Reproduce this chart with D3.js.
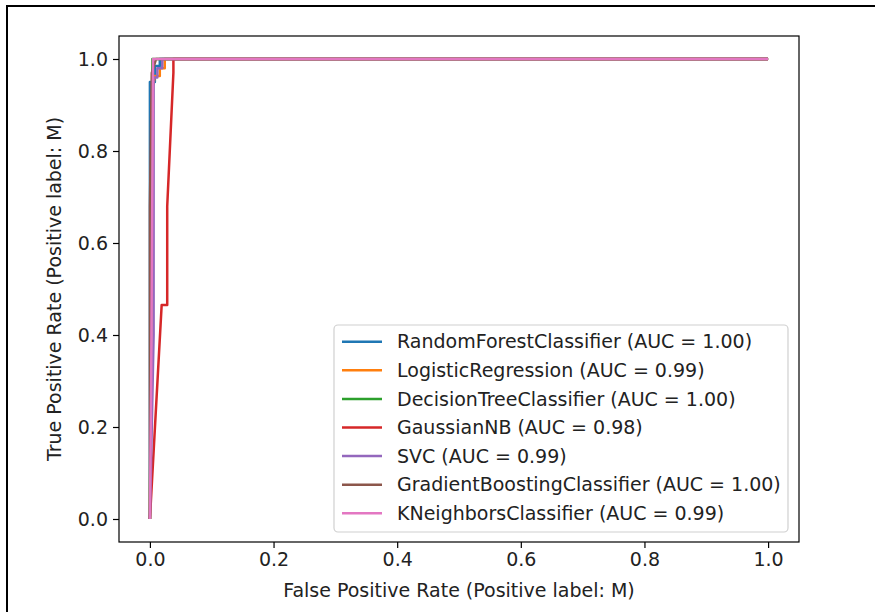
<!DOCTYPE html>
<html>
<head>
<meta charset="utf-8">
<script src="https://cdn.jsdelivr.net/npm/d3@7"></script>
<style>
  body { margin: 0; background: #fff; }
  text { font-family: "DejaVu Sans", sans-serif; fill: #222; }
</style>
</head>
<body>
<div id="chart"></div>
<script>
// ROC curves
const names = [
  "RandomForestClassifier", "LogisticRegression", "DecisionTreeClassifier",
  "GaussianNB", "SVC", "GradientBoostingClassifier", "KNeighborsClassifier"
];
const aucs = ["1.00", "0.99", "1.00", "0.98", "0.99", "1.00", "0.99"];
const colours = ["#1f77b4", "#ff7f0e", "#2ca02c", "#d62728", "#9467bd", "#8c564b", "#e377c2"];

const rfFpr = [0, 0, 0.008, 0.008, 0.016, 0.016, 1];
const rfTpr = [0, 0.95, 0.95, 0.985, 0.985, 1, 1];
const lrFpr = [0, 0.005, 0.008, 0.016, 0.016, 0.024, 0.024, 1];
const lrTpr = [0, 0.94, 0.963, 0.963, 0.98, 0.98, 1, 1];
const dtFpr = [0, 0.004, 1];
const dtTpr = [0, 1, 1];
const nbFpr = [0, 0.019, 0.028, 0.028, 0.038, 0.038, 1];
const nbTpr = [0, 0.465, 0.465, 0.68, 0.97, 1, 1];
const svcFpr = [0, 0.006, 0.006, 0.012, 0.012, 0.02, 0.02, 1];
const svcTpr = [0, 0.4, 0.96, 0.96, 0.98, 0.98, 1, 1];
const gbFpr = [0, 0, 0.003, 0.01, 1];
const gbTpr = [0, 0.68, 0.97, 1, 1];
const knnFpr = [0, 0.002, 0.005, 0.005, 1];
const knnTpr = [0, 0.3, 0.97, 1, 1];

const tickValues = [0, 0.2, 0.4, 0.6, 0.8, 1.0];

const fprs = [rfFpr, lrFpr, dtFpr, nbFpr, svcFpr, gbFpr, knnFpr];
const tprs = [rfTpr, lrTpr, dtTpr, nbTpr, svcTpr, gbTpr, knnTpr];

const width = 875, height = 612;
const m = { left: 119, right: 799, top: 36, bottom: 542 };
const fontSize = "19px";

const svg = d3.select("#chart").append("svg")
  .attr("width", width).attr("height", height);

// screenshot frame
svg.append("path")
  .attr("d", `M7,${height} V6 H${width}`)
  .attr("fill", "none").attr("stroke", "#000").attr("stroke-width", 2);

const x = d3.scaleLinear().domain([-0.05, 1.05]).range([m.left, m.right]);
const y = d3.scaleLinear().domain([-0.05, 1.05]).range([m.bottom, m.top]);

const line = d3.line().x((d) => x(d[0])).y((d) => y(d[1]));

const plot = svg.append("g");
plot.append("defs").append("clipPath").attr("id", "clip")
  .append("rect").attr("x", m.left).attr("y", m.top)
  .attr("width", m.right - m.left).attr("height", m.bottom - m.top);

plot.append("g").attr("clip-path", "url(#clip)")
  .selectAll("path")
  .data(names.map((n, i) => fprs[i].map((f, j) => [f, tprs[i][j]])))
  .enter()
  .append("path")
  .attr("d", line)
  .attr("fill", "none")
  .attr("stroke", (d, i) => colours[i])
  .attr("stroke-width", 2.5)
  .attr("stroke-linejoin", "round");

// axes
const xAxis = d3.axisBottom(x).tickValues(tickValues).tickFormat(d3.format(".1f")).tickSize(6).tickPadding(5);
const yAxis = d3.axisLeft(y).tickValues(tickValues).tickFormat(d3.format(".1f")).tickSize(6).tickPadding(5);

const gx = svg.append("g").attr("transform", `translate(0,${m.bottom})`).call(xAxis);
const gy = svg.append("g").attr("transform", `translate(${m.left},0)`).call(yAxis);
[gx, gy].forEach((g) => {
  g.select(".domain").remove();
  g.selectAll(".tick line").attr("stroke", "#000").attr("stroke-width", 1.2);
  g.selectAll(".tick text").style("font-size", fontSize).attr("fill", "#222");
});

svg.append("rect")
  .attr("x", m.left).attr("y", m.top)
  .attr("width", m.right - m.left).attr("height", m.bottom - m.top)
  .attr("fill", "none").attr("stroke", "#000").attr("stroke-width", 1.2);

svg.append("text")
  .attr("x", (m.left + m.right) / 2).attr("y", 597)
  .attr("text-anchor", "middle").style("font-size", fontSize)
  .text("False Positive Rate (Positive label: M)");

svg.append("text")
  .attr("transform", `translate(61,${(m.top + m.bottom) / 2}) rotate(-90)`)
  .attr("text-anchor", "middle").style("font-size", fontSize)
  .text("True Positive Rate (Positive label: M)");

// legend
const lg = svg.append("g");
lg.append("rect")
  .attr("x", 334).attr("y", 325).attr("width", 454).attr("height", 207)
  .attr("rx", 4).attr("fill", "#fff").attr("fill-opacity", 0.8)
  .attr("stroke", "#d0d0d0").attr("stroke-width", 1.2);

const items = lg.selectAll(".item").data(names).enter()
  .append("g")
  .attr("transform", (d, i) => `translate(0,${341.7 + i * 28.6})`);
items.append("line")
  .attr("x1", 342).attr("x2", 382)
  .attr("stroke", (d, i) => colours[i]).attr("stroke-width", 2.5);
items.append("text")
  .attr("x", 397).attr("dy", "0.35em")
  .style("font-size", fontSize)
  .text((d, i) => `${d} (AUC = ${aucs[i]})`);
</script>
</body>
</html>
